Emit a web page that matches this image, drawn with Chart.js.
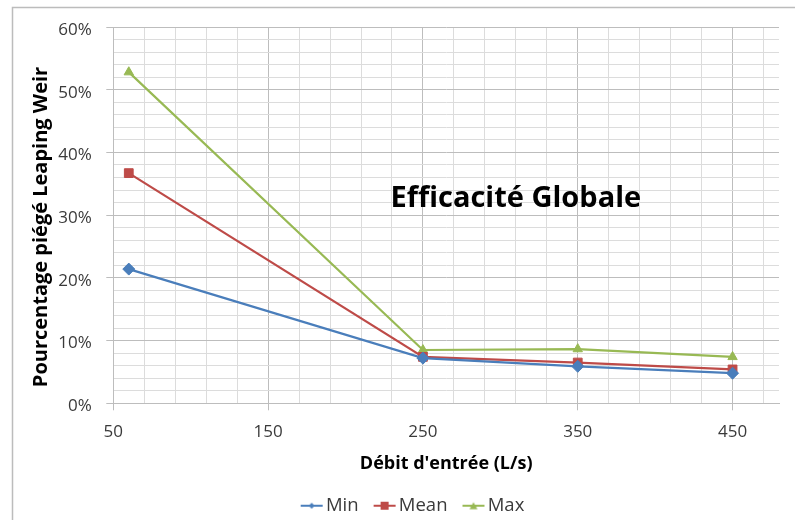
<!DOCTYPE html>
<html>
<head>
<meta charset="utf-8">
<script src="https://cdn.jsdelivr.net/npm/chart.js@4.4.1/dist/chart.umd.min.js"></script>
<style>
  html, body { margin: 0; padding: 0; background: #ffffff; }
  #wrap { position: relative; width: 795px; height: 520px; overflow: hidden; }
</style>
</head>
<body>
<div id="wrap"><canvas id="c" width="795" height="520"></canvas></div>
<script>
// ---- data ----
const seriesNames = ['Min', 'Mean', 'Max'];
const xValues = [60, 250, 350, 450];
const minValues = [0.214, 0.072, 0.059, 0.048];
const meanValues = [0.367, 0.074, 0.065, 0.054];
const maxValues = [0.528, 0.085, 0.0865, 0.074];
const xTicks = [50, 70, 90, 110, 130, 150, 170, 190, 210, 230, 250, 270, 290, 310, 330, 350, 370, 390, 410, 430, 450, 470];
const xLabeled = [50, 150, 250, 350, 450];
const yTicks = [0, 0.02, 0.04, 0.06, 0.08, 0.1, 0.12, 0.14, 0.16, 0.18, 0.2, 0.22, 0.24, 0.26, 0.28, 0.3,
                0.32, 0.34, 0.36, 0.38, 0.4, 0.42, 0.44, 0.46, 0.48, 0.5, 0.52, 0.54, 0.56, 0.58, 0.6];
const yLabeled = [0, 0.1, 0.2, 0.3, 0.4, 0.5, 0.6];
const xTitle = "Débit d'entrée (L/s)";
const yTitle = 'Pourcentage piégé Leaping Weir';
const chartLabel = 'Efficacité Globale';

// ---- styles ----
const colors = ['#4A7EBB', '#BE4B48', '#98B954'];
const pointStyles = ['rectRot', 'rect', 'triangle'];
const pointRadii = [6, 6.2, 5.4];
const FONT = "'Open Sans', 'Liberation Sans', sans-serif";
const MAJOR = '#bdbdbd';
const MINOR = '#dcdcdc';
const TEXT = '#3a3a3a';

const isY = (v, list) => list.some(t => Math.abs(t - v) < 1e-6);

function makeIcon(i) {
  const c = document.createElement('canvas');
  c.width = 24; c.height = 12;
  const g = c.getContext('2d');
  g.strokeStyle = colors[i]; g.fillStyle = colors[i];
  g.lineWidth = 2;
  g.beginPath(); g.moveTo(1, 6); g.lineTo(23, 6); g.stroke();
  g.beginPath();
  if (i === 0) { g.moveTo(12, 3); g.lineTo(15, 6); g.lineTo(12, 9); g.lineTo(9, 6); g.closePath(); }
  else if (i === 1) { g.rect(8, 2, 8, 8); }
  else { g.moveTo(12, 2.5); g.lineTo(16, 9.5); g.lineTo(8, 9.5); g.closePath(); }
  g.fill();
  return c;
}
const icons = [0, 1, 2].map(makeIcon);

const allSeries = [minValues, meanValues, maxValues];
const datasets = allSeries.map((vals, i) => ({
  label: seriesNames[i],
  data: xValues.map((x, j) => ({ x: x, y: vals[j] })),
  borderColor: colors[i],
  backgroundColor: colors[i],
  borderWidth: 2.2,
  pointStyle: pointStyles[i],
  pointRadius: pointRadii[i],
  pointBorderWidth: 1,
  pointBackgroundColor: colors[i],
  pointBorderColor: colors[i],
  tension: 0,
  fill: false
}));

const framePlugin = {
  id: 'frame',
  beforeDraw(chart) {
    const ctx = chart.ctx;
    ctx.save();
    ctx.fillStyle = '#ffffff';
    ctx.fillRect(0, 0, chart.width, chart.height);
    ctx.strokeStyle = '#bcbcbc';
    ctx.lineWidth = 1.5;
    ctx.strokeRect(12.5, 7.5, 800, 560);
    ctx.restore();
  },
  afterDraw(chart) {
    const ctx = chart.ctx;
    ctx.save();
    // y axis title
    ctx.translate(41.5, 227);
    ctx.rotate(-Math.PI / 2);
    ctx.font = 'bold 20px ' + FONT;
    ctx.fillStyle = '#000000';
    ctx.textAlign = 'center';
    ctx.textBaseline = 'middle';
    ctx.fillText(yTitle, 0, 0);
    ctx.restore();
    // in-plot label
    ctx.save();
    ctx.font = 'bold 29px ' + FONT;
    ctx.fillStyle = '#000000';
    ctx.textAlign = 'left';
    ctx.textBaseline = 'alphabetic';
    ctx.fillText(chartLabel, 390.5, 206.5);
    ctx.restore();
  }
};

new Chart(document.getElementById('c'), {
  type: 'line',
  data: { datasets: datasets },
  plugins: [framePlugin],
  options: {
    responsive: false,
    animation: false,
    layout: { padding: { left: 52, right: 16, top: 27, bottom: -5 } },
    plugins: {
      title: { display: false },
      tooltip: { enabled: false },
      legend: {
        display: true,
        position: 'bottom',
        labels: {
          usePointStyle: true,
          pointStyleWidth: 10,
          padding: 21,
          color: TEXT,
          font: { family: FONT, size: 18.5 },
          generateLabels(chart) {
            return chart.data.datasets.map((ds, i) => ({
              text: ds.label,
              pointStyle: icons[i],
              fillStyle: colors[i],
              strokeStyle: colors[i],
              lineWidth: 0,
              hidden: false,
              datasetIndex: i,
              fontColor: TEXT
            }));
          }
        }
      }
    },
    scales: {
      x: {
        type: 'linear',
        min: 50,
        max: 480,
        afterBuildTicks(scale) { scale.ticks = xTicks.map(v => ({ value: v })); },
        afterFit(scale) { scale.height = 72.2; },
        ticks: {
          autoSkip: false,
          maxRotation: 0,
          padding: 11.2,
          color: TEXT,
          font: { family: FONT, size: 17 },
          callback: v => (xLabeled.includes(v) ? String(v) : '')
        },
        grid: {
          color: c => (c.tick && xLabeled.includes(c.tick.value) ? MAJOR : MINOR),
          tickColor: c => (c.tick && xLabeled.includes(c.tick.value) ? MAJOR : 'rgba(0,0,0,0)'),
          tickLength: 7,
          lineWidth: 1
        },
        border: { color: MAJOR, width: 1 },
        title: {
          display: true,
          text: xTitle,
          color: '#000000',
          font: { family: FONT, size: 18, weight: 'bold' },
          padding: { top: 0, bottom: 1 }
        }
      },
      y: {
        type: 'linear',
        min: 0,
        max: 0.6,
        afterBuildTicks(scale) { scale.ticks = yTicks.map(v => ({ value: v })); },
        afterFit(scale) { scale.width = 61.3; },
        ticks: {
          autoSkip: false,
          padding: 14.6,
          labelOffset: 3,
          color: TEXT,
          font: { family: FONT, size: 17 },
          callback: v => (isY(v, yLabeled) ? Math.round(v * 100) + '%' : '')
        },
        grid: {
          color: c => (c.tick && isY(c.tick.value, yLabeled) ? MAJOR : MINOR),
          tickColor: c => (c.tick && isY(c.tick.value, yLabeled) ? MAJOR : 'rgba(0,0,0,0)'),
          tickLength: 7,
          lineWidth: 1
        },
        border: { color: MAJOR, width: 1 }
      }
    }
  }
});
</script>
</body>
</html>
